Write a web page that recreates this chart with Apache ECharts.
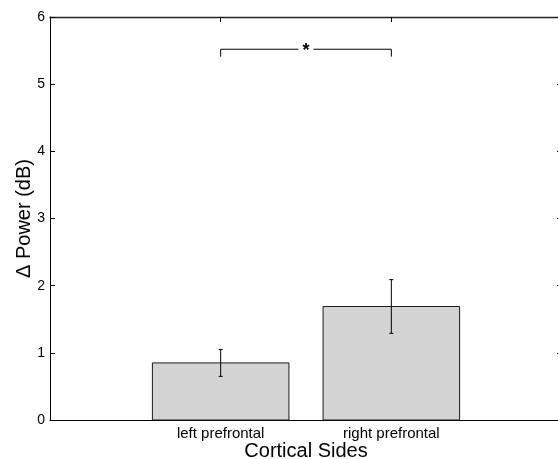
<!DOCTYPE html>
<html><head><meta charset="utf-8">
<script src="https://cdn.jsdelivr.net/npm/echarts@6/dist/echarts.min.js"></script>
<style>html,body{margin:0;padding:0;background:#fff}#c{width:558px;height:459px}</style>
</head><body><div id="c"></div>
<script>
var categories = ['left prefrontal', 'right prefrontal'];
var positions = [1, 2];
var means = [0.85, 1.69];
var errors = [0.20, 0.40];
var yTicks = [0, 1, 2, 3, 4, 5, 6];
var bracket = [1, 2, 5.52, 5.41]; // x from, x to, line level, end level
var sigLabel = '*';

var FONT = 'Liberation Sans, Arial, Helvetica, sans-serif';
var chart = echarts.init(document.getElementById('c'));
var barData = positions.map(function (p, i) { return [p, means[i]]; });
var errData = positions.map(function (p, i) { return [p, means[i] - errors[i], means[i] + errors[i]]; });

chart.setOption({
  animation: false,
  grid: { left: 50, right: -4, top: 17, bottom: 39, containLabel: false, outerBoundsMode: 'none' },
  xAxis: [{
    type: 'value', min: 0, max: 3, interval: 1, position: 'bottom',
    name: 'Cortical Sides', nameLocation: 'middle', nameGap: 21.5, nameMoveOverlap: false,
    nameTextStyle: { fontFamily: FONT, fontSize: 20, color: '#000' },
    axisLine: { show: true, onZero: false, lineStyle: { color: '#000', width: 1 } },
    axisTick: { show: true, inside: true, length: 5, lineStyle: { color: '#000' } },
    axisLabel: { show: true, margin: 6, fontFamily: FONT, fontSize: 15, color: '#000',
      showMinLabel: false, showMaxLabel: false,
      formatter: function (v) { var i = positions.indexOf(v); return i >= 0 ? categories[i] : ''; } },
    splitLine: { show: false }
  }, {
    type: 'value', min: 0, max: 3, interval: 1, position: 'top',
    axisLine: { show: true, onZero: false, lineStyle: { color: '#222', width: 1.3 } },
    axisTick: { show: true, inside: true, length: 5, lineStyle: { color: '#000' } },
    axisLabel: { show: false }, splitLine: { show: false }
  }],
  yAxis: [{
    type: 'value', min: 0, max: 6, interval: 1, position: 'left',
    name: '\u0394 Power (dB)', nameLocation: 'middle', nameGap: 16, nameMoveOverlap: false,
    nameTextStyle: { fontFamily: FONT, fontSize: 20, color: '#000' },
    axisLine: { show: true, onZero: false, lineStyle: { color: '#000', width: 1 } },
    axisTick: { show: true, inside: true, length: 5, lineStyle: { color: '#000' } },
    axisLabel: { show: true, margin: 5, fontFamily: FONT, fontSize: 14, color: '#000',
      formatter: function (v) { return yTicks.indexOf(v) >= 0 ? String(v) : ''; } },
    splitLine: { show: false }
  }, {
    type: 'value', min: 0, max: 6, interval: 1, position: 'right',
    axisLine: { show: true, onZero: false, lineStyle: { color: '#000', width: 1 } },
    axisTick: { show: true, inside: true, length: 5, lineStyle: { color: '#000' } },
    axisLabel: { show: false }, splitLine: { show: false }
  }],
  series: [{
    type: 'custom', z: 2,
    data: barData,
    renderItem: function (params, api) {
      var x = api.value(0), y = api.value(1);
      var p0 = api.coord([x - 0.4, y]);
      var p1 = api.coord([x + 0.4, 0]);
      return { type: 'rect', shape: { x: p0[0], y: p0[1], width: p1[0] - p0[0], height: p1[1] - p0[1] },
        style: { fill: '#d3d3d3', stroke: '#1a1a1a', lineWidth: 1 } };
    }
  }, {
    type: 'custom', z: 3,
    data: errData,
    renderItem: function (params, api) {
      var x = api.value(0);
      var lo = api.coord([x, api.value(1)]);
      var hi = api.coord([x, api.value(2)]);
      var c = 2;
      var st = { stroke: '#000', lineWidth: 1 };
      return { type: 'group', children: [
        { type: 'line', shape: { x1: lo[0], y1: lo[1], x2: hi[0], y2: hi[1] }, style: st },
        { type: 'line', shape: { x1: lo[0] - c, y1: lo[1], x2: lo[0] + c, y2: lo[1] }, style: st },
        { type: 'line', shape: { x1: hi[0] - c, y1: hi[1], x2: hi[0] + c, y2: hi[1] }, style: st }
      ] };
    }
  }, {
    type: 'custom', z: 3,
    data: [bracket],
    renderItem: function (params, api) {
      var a = api.coord([api.value(0), api.value(2)]);
      var b = api.coord([api.value(1), api.value(2)]);
      var ae = api.coord([api.value(0), api.value(3)]);
      var be = api.coord([api.value(1), api.value(3)]);
      var mid = (a[0] + b[0]) / 2, gap = 7.5;
      var st = { stroke: '#000', lineWidth: 1, fill: null };
      return { type: 'group', children: [
        { type: 'polyline', shape: { points: [[ae[0], ae[1]], [a[0], a[1]], [mid - gap, a[1]]] }, style: st },
        { type: 'polyline', shape: { points: [[mid + gap, b[1]], [b[0], b[1]], [be[0], be[1]]] }, style: st },
        { type: 'text', style: { text: sigLabel, x: mid, y: a[1] + 2, align: 'center', verticalAlign: 'middle',
          fontFamily: FONT, fontSize: 18, fontWeight: 'bold', fill: '#000' } }
      ] };
    }
  }]
});
</script></body></html>
